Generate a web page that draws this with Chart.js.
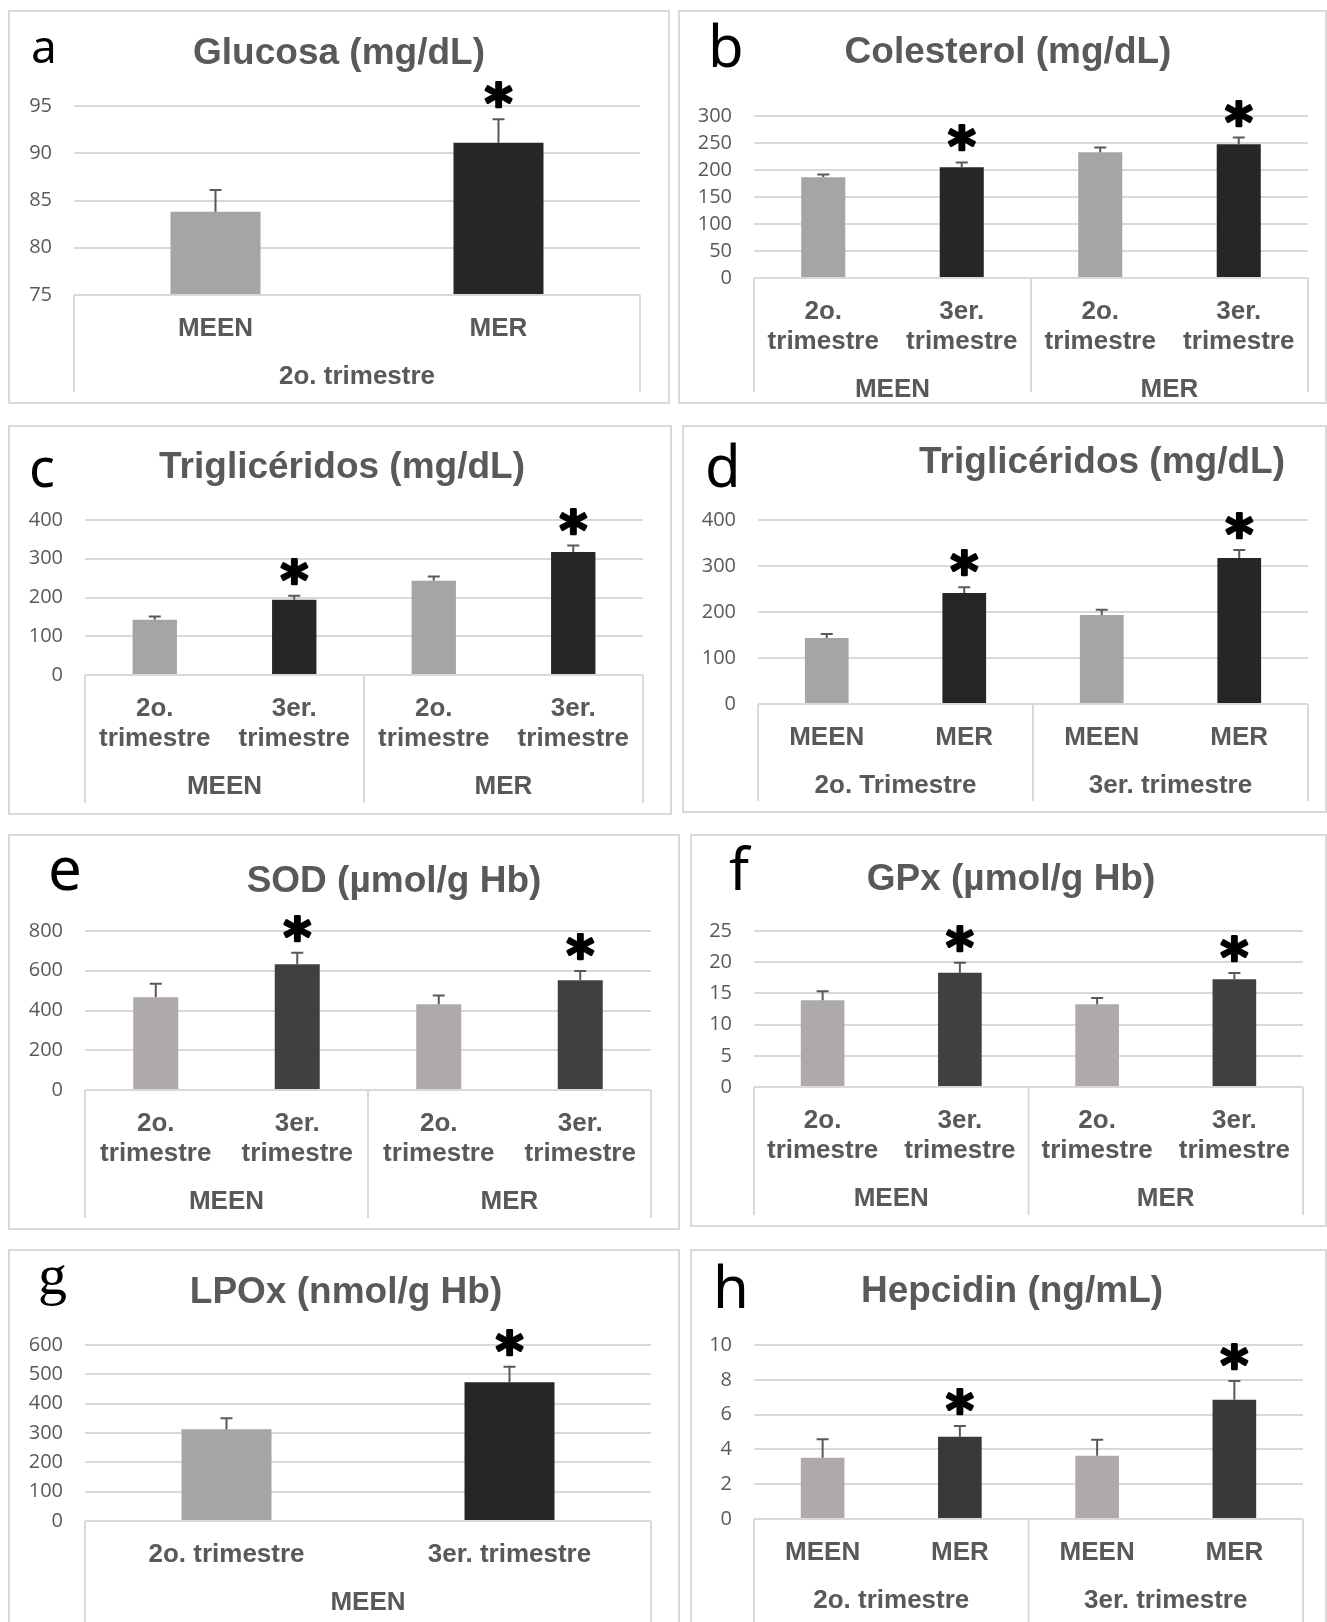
<!DOCTYPE html>
<html>
<head>
<meta charset="utf-8">
<title>Parámetros por trimestre</title>
<script src="https://cdn.jsdelivr.net/npm/chart.js@4.4.1/dist/chart.umd.min.js"></script>
<style>
html, body { margin: 0; padding: 0; background: #fff; }
body { width: 1327px; height: 1622px; position: relative; overflow: hidden; }
.panel { position: absolute; box-sizing: border-box; border: 2px solid #d9d9d9; background: #fff; }
.panel canvas { position: absolute; left: 0; top: 0; }
</style>
</head>
<body>
<script>
// a - Glucosa
var glucosaLabels = [['MEEN'], ['MER']];
var glucosaGroups = ['2o. trimestre'];
var glucosaValues = [83.8, 91.1];
var glucosaErrors = [2.3, 2.5];
var glucosaStars = [0, 1];
var glucosaTicks = [75, 80, 85, 90, 95];

// b - Colesterol
var colesterolLabels = [['2o.', 'trimestre'], ['3er.', 'trimestre'], ['2o.', 'trimestre'], ['3er.', 'trimestre']];
var colesterolGroups = ['MEEN', 'MER'];
var colesterolValues = [186.8, 205.3, 233.0, 247.7];
var colesterolErrors = [5.0, 8.6, 8.5, 12.3];
var colesterolStars = [0, 1, 0, 1];
var colesterolTicks = [0, 50, 100, 150, 200, 250, 300];

// c - Trigliceridos por trimestre
var trigTrimLabels = [['2o.', 'trimestre'], ['3er.', 'trimestre'], ['2o.', 'trimestre'], ['3er.', 'trimestre']];
var trigTrimGroups = ['MEEN', 'MER'];
var trigTrimValues = [142.5, 194.0, 243.0, 317.6];
var trigTrimErrors = [8.6, 10.3, 11.0, 16.3];
var trigTrimStars = [0, 1, 0, 1];
var trigTrimTicks = [0, 100, 200, 300, 400];

// d - Trigliceridos por grupo
var trigGrupoLabels = [['MEEN'], ['MER'], ['MEEN'], ['MER']];
var trigGrupoGroups = ['2o. Trimestre', '3er. trimestre'];
var trigGrupoValues = [143.5, 241.3, 193.5, 317.4];
var trigGrupoErrors = [8.5, 12.3, 11.5, 17.4];
var trigGrupoStars = [0, 1, 0, 1];
var trigGrupoTicks = [0, 100, 200, 300, 400];

// e - SOD
var sodLabels = [['2o.', 'trimestre'], ['3er.', 'trimestre'], ['2o.', 'trimestre'], ['3er.', 'trimestre']];
var sodGroups = ['MEEN', 'MER'];
var sodValues = [467, 633, 432, 552];
var sodErrors = [67, 57, 43.5, 47];
var sodStars = [0, 1, 0, 1];
var sodTicks = [0, 200, 400, 600, 800];

// f - GPx
var gpxLabels = [['2o.', 'trimestre'], ['3er.', 'trimestre'], ['2o.', 'trimestre'], ['3er.', 'trimestre']];
var gpxGroups = ['MEEN', 'MER'];
var gpxValues = [13.9, 18.3, 13.25, 17.25];
var gpxErrors = [1.45, 1.6, 1.0, 1.0];
var gpxStars = [0, 1, 0, 1];
var gpxTicks = [0, 5, 10, 15, 20, 25];

// g - LPOx
var lpoxLabels = [['2o. trimestre'], ['3er. trimestre']];
var lpoxGroups = ['MEEN'];
var lpoxValues = [312.5, 472.7];
var lpoxErrors = [37.5, 53.4];
var lpoxStars = [0, 1];
var lpoxTicks = [0, 100, 200, 300, 400, 500, 600];

// h - Hepcidin
var hepcidinLabels = [['MEEN'], ['MER'], ['MEEN'], ['MER']];
var hepcidinGroups = ['2o. trimestre', '3er. trimestre'];
var hepcidinValues = [3.52, 4.72, 3.63, 6.85];
var hepcidinErrors = [1.07, 0.63, 0.92, 1.08];
var hepcidinStars = [0, 1, 0, 1];
var hepcidinTicks = [0, 2, 4, 6, 8, 10];

var GREY_A = '#a5a5a5', DARK_A = '#262626';
var GREY_B = '#aeaaaa', DARK_B = '#404040';

var panels = [
    { letter: 'a', letterFont: '46px "Noto Sans"', letterAt: [31, 63], title: 'Glucosa (mg/dL)', titleAt: [339, 54],
      box: [8, 10, 670, 404], plot: [74, 106, 640, 295], colors: [GREY_A, DARK_A],
      labels: glucosaLabels, groups: glucosaGroups, values: glucosaValues, errors: glucosaErrors, stars: glucosaStars, ticks: glucosaTicks },
    { letter: 'b', letterFont: '58px "Noto Sans"', letterAt: [708, 67], title: 'Colesterol (mg/dL)', titleAt: [1008, 53],
      box: [678, 10, 1327, 404], plot: [754, 116, 1308, 278], colors: [GREY_A, DARK_A],
      labels: colesterolLabels, groups: colesterolGroups, values: colesterolValues, errors: colesterolErrors, stars: colesterolStars, ticks: colesterolTicks },
    { letter: 'c', letterFont: '54px "Noto Sans"', letterAt: [29, 487], title: 'Triglicéridos (mg/dL)', titleAt: [342, 468],
      box: [8, 425, 672, 815], plot: [85, 520, 643, 675], colors: [GREY_A, DARK_A],
      labels: trigTrimLabels, groups: trigTrimGroups, values: trigTrimValues, errors: trigTrimErrors, stars: trigTrimStars, ticks: trigTrimTicks },
    { letter: 'd', letterFont: '58px "Noto Sans"', letterAt: [705, 487], title: 'Triglicéridos (mg/dL)', titleAt: [1102, 463],
      box: [682, 425, 1327, 813], plot: [758, 520, 1308, 704], colors: [GREY_A, DARK_A],
      labels: trigGrupoLabels, groups: trigGrupoGroups, values: trigGrupoValues, errors: trigGrupoErrors, stars: trigGrupoStars, ticks: trigGrupoTicks },
    { letter: 'e', letterFont: '60px "Noto Sans"', letterAt: [48, 890], title: 'SOD (µmol/g Hb)', titleAt: [394, 882],
      box: [8, 834, 680, 1230], plot: [85, 931, 651, 1090], colors: [GREY_B, DARK_B],
      labels: sodLabels, groups: sodGroups, values: sodValues, errors: sodErrors, stars: sodStars, ticks: sodTicks },
    { letter: 'f', letterFont: '58px "Noto Sans"', letterAt: [729, 890], title: 'GPx (µmol/g Hb)', titleAt: [1011, 880],
      box: [690, 834, 1327, 1227], plot: [754, 931, 1303, 1087], colors: [GREY_B, DARK_B],
      labels: gpxLabels, groups: gpxGroups, values: gpxValues, errors: gpxErrors, stars: gpxStars, ticks: gpxTicks },
    { letter: 'g', letterFont: '58px "Liberation Serif"', letterAt: [38, 1294], title: 'LPOx (nmol/g Hb)', titleAt: [346, 1293],
      box: [8, 1249, 680, 1640], plot: [85, 1345, 651, 1521], colors: [GREY_A, DARK_A],
      labels: lpoxLabels, groups: lpoxGroups, values: lpoxValues, errors: lpoxErrors, stars: lpoxStars, ticks: lpoxTicks },
    { letter: 'h', letterFont: '58px "Noto Sans"', letterAt: [713, 1308], title: 'Hepcidin (ng/mL)', titleAt: [1012, 1292],
      box: [690, 1249, 1327, 1640], plot: [754, 1345, 1303, 1519], colors: [GREY_B, '#3b3838'],
      labels: hepcidinLabels, groups: hepcidinGroups, values: hepcidinValues, errors: hepcidinErrors, stars: hepcidinStars, ticks: hepcidinTicks }
];

var BORDER = 2;
var LABEL_FONT = 'bold 26px "Liberation Sans", Arial, sans-serif';
var TEXT_GREY = '#595959';
var STAR_FAMILY = '"DejaVu Sans", sans-serif';
var STAR_HEIGHT = 25;

// size the asterisk so its ink is STAR_HEIGHT tall
function starFont(ctx) {
    ctx.font = 'bold 100px ' + STAR_FAMILY;
    var m = ctx.measureText('*');
    var inkH = m.actualBoundingBoxAscent + m.actualBoundingBoxDescent;
    var size = Math.round(100 * STAR_HEIGHT / inkH);
    return 'bold ' + size + 'px ' + STAR_FAMILY;
}

// error bars, asterisks, titles, letters and the two-level category axis
var panelDecor = {
    id: 'panelDecor',
    afterDatasetsDraw: function (chart, args, opts) {
        var p = opts.panel;
        var ctx = chart.ctx;
        var area = chart.chartArea;
        var xs = chart.scales.x, ys = chart.scales.y;
        var meta = chart.getDatasetMeta(0);
        var ox = p.box[0] + BORDER, oy = p.box[1] + BORDER;
        var canvasH = chart.height;

        ctx.save();

        // error bars (upper only)
        ctx.font = starFont(ctx);
        var star = ctx.measureText('*');
        for (var i = 0; i < p.values.length; i++) {
            var cx = meta.data[i].x;
            var y0 = ys.getPixelForValue(p.values[i]);
            var y1 = ys.getPixelForValue(p.values[i] + p.errors[i]);
            ctx.strokeStyle = TEXT_GREY;
            ctx.lineWidth = 2;
            ctx.beginPath();
            ctx.moveTo(cx, y0);
            ctx.lineTo(cx, y1);
            ctx.moveTo(cx - 6, y1);
            ctx.lineTo(cx + 6, y1);
            ctx.stroke();
            if (p.stars[i]) {
                var by = y1 - 12 - star.actualBoundingBoxDescent;
                ctx.fillStyle = '#000';
                ctx.strokeStyle = '#000';
                ctx.lineWidth = 2.5;
                ctx.lineJoin = 'round';
                ctx.textAlign = 'center';
                ctx.textBaseline = 'alphabetic';
                ctx.fillText('*', cx, by);
                ctx.strokeText('*', cx, by);
            }
        }

        // category axis frame
        ctx.strokeStyle = '#d9d9d9';
        ctx.lineWidth = 2;
        var n = p.labels.length;
        var per = n / p.groups.length;
        var edges = [area.left];
        for (var g = 1; g < p.groups.length; g++) {
            edges.push((xs.getPixelForValue(g * per - 1) + xs.getPixelForValue(g * per)) / 2);
        }
        edges.push(area.right);
        ctx.beginPath();
        ctx.moveTo(area.left, area.bottom);
        ctx.lineTo(area.right, area.bottom);
        edges.forEach(function (ex) {
            ctx.moveTo(ex, area.bottom);
            ctx.lineTo(ex, canvasH - 10);
        });
        ctx.stroke();

        // category labels
        ctx.fillStyle = TEXT_GREY;
        ctx.font = LABEL_FONT;
        ctx.textAlign = 'center';
        ctx.textBaseline = 'middle';
        var lines = 1;
        p.labels.forEach(function (lab, k) {
            var lx = xs.getPixelForValue(k);
            lines = Math.max(lines, lab.length);
            lab.forEach(function (line, j) {
                ctx.fillText(line, lx, area.bottom + 34 + j * 30);
            });
        });
        var groupY = area.bottom + 34 + (lines - 1) * 30 + 48;
        p.groups.forEach(function (grp, k) {
            ctx.fillText(grp, (edges[k] + edges[k + 1]) / 2, groupY);
        });

        // title
        ctx.font = 'bold 37px "Liberation Sans", Arial, sans-serif';
        ctx.fillText(p.title, p.titleAt[0] - ox, p.titleAt[1] - oy);

        // panel letter
        ctx.fillStyle = '#000';
        ctx.font = p.letterFont;
        ctx.textAlign = 'left';
        ctx.textBaseline = 'alphabetic';
        ctx.fillText(p.letter, p.letterAt[0] - ox, p.letterAt[1] - oy);

        ctx.restore();
    }
};

panels.forEach(function (p, idx) {
    var div = document.createElement('div');
    div.className = 'panel';
    var w = p.box[2] - p.box[0], h = p.box[3] - p.box[1];
    div.style.left = p.box[0] + 'px';
    div.style.top = p.box[1] + 'px';
    div.style.width = w + 'px';
    div.style.height = h + 'px';
    var canvas = document.createElement('canvas');
    var cw = w - 2 * BORDER, ch = h - 2 * BORDER;
    canvas.width = cw;
    canvas.height = ch;
    canvas.style.width = cw + 'px';
    canvas.style.height = ch + 'px';
    canvas.id = 'chart' + idx;
    div.appendChild(canvas);
    document.body.appendChild(div);

    var ox = p.box[0] + BORDER, oy = p.box[1] + BORDER;
    var axisWidth = p.plot[0] - ox;
    var barColors = p.values.map(function (v, i) { return p.colors[i % 2]; });

    new Chart(canvas.getContext('2d'), {
        type: 'bar',
        data: {
            labels: p.labels.map(function (l) { return l.join(' '); }),
            datasets: [{
                data: p.values,
                backgroundColor: barColors,
                borderWidth: 0,
                barPercentage: 0.318,
                categoryPercentage: 1
            }]
        },
        options: {
            responsive: false,
            animation: false,
            layout: {
                padding: {
                    left: 0,
                    right: cw - (p.plot[2] - ox),
                    top: p.plot[1] - oy,
                    bottom: ch - (p.plot[3] - oy)
                }
            },
            plugins: {
                legend: { display: false },
                tooltip: { enabled: false },
                title: { display: false },
                panelDecor: { panel: p }
            },
            scales: {
                x: {
                    display: false
                },
                y: {
                    min: p.ticks[0],
                    max: p.ticks[p.ticks.length - 1],
                    afterFit: function (scale) { scale.width = axisWidth; },
                    afterBuildTicks: function (scale) {
                        scale.ticks = p.ticks.map(function (t) { return { value: t }; });
                    },
                    border: { display: false },
                    grid: { color: '#d9d9d9', lineWidth: 2, drawTicks: false },
                    ticks: {
                        padding: 22,
                        color: TEXT_GREY,
                        font: { family: '"Open Sans", sans-serif', size: 20 }
                    }
                }
            }
        },
        plugins: [panelDecor]
    });
});
</script>
</body>
</html>
